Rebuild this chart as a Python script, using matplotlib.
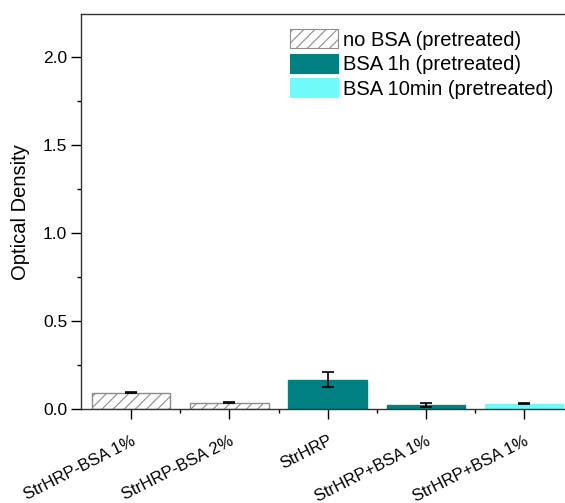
import matplotlib
matplotlib.use("Agg")
import matplotlib.pyplot as plt
from matplotlib.ticker import MultipleLocator, FixedLocator, FormatStrFormatter
from matplotlib.patches import Patch

plt.rcParams['font.family'] = ['Liberation Sans', 'DejaVu Sans']
plt.rcParams['hatch.color'] = '#a0a0a0'
plt.rcParams['hatch.linewidth'] = 0.8

categories = ["StrHRP-BSA 1%", "StrHRP-BSA 2%", "StrHRP", "StrHRP+BSA 1%", "StrHRP+BSA 1%"]
od_values = [0.095, 0.038, 0.170, 0.027, 0.034]
od_errors = [0.003, 0.002, 0.041, 0.010, 0.005]
groups = ["no BSA (pretreated)", "no BSA (pretreated)", "BSA 1h (pretreated)",
          "BSA 1h (pretreated)", "BSA 10min (pretreated)"]
group_order = ["no BSA (pretreated)", "BSA 1h (pretreated)", "BSA 10min (pretreated)"]

styles = {
    "no BSA (pretreated)": dict(facecolor="white", edgecolor="#8c8c8c", hatch="///"),
    "BSA 1h (pretreated)": dict(facecolor="#008080", edgecolor="#008080", hatch=None),
    "BSA 10min (pretreated)": dict(facecolor="#70FAFA", edgecolor="#70FAFA", hatch=None),
}

fig = plt.figure(figsize=(5.65, 5.03), dpi=100)
ax = fig.add_axes([0.1434, 0.1859, 0.873, 0.7863])

x = list(range(1, len(categories) + 1))
for xi, v, e, g in zip(x, od_values, od_errors, groups):
    st = styles[g]
    ax.bar(xi, v, width=0.8, facecolor=st["facecolor"], edgecolor=st["edgecolor"],
           hatch=st["hatch"], linewidth=1.0, zorder=2)
    ax.errorbar(xi, v, yerr=e, fmt="none", ecolor="black", elinewidth=1.2,
                capsize=4, capthick=1.2, zorder=3)

ax.set_xlim(0.49, 5.51)
ax.set_ylim(0, 2.247)
ax.set_ylabel("Optical Density", fontsize=14.5, labelpad=9)

ax.set_xticks(x)
ax.set_xticklabels(categories, rotation=27, ha="right", rotation_mode="anchor", fontsize=12)
ax.xaxis.set_minor_locator(FixedLocator([1.5, 2.5, 3.5, 4.5]))
ax.yaxis.set_major_locator(MultipleLocator(0.5))
ax.yaxis.set_minor_locator(MultipleLocator(0.25))
ax.yaxis.set_major_formatter(FormatStrFormatter("%.1f"))
ax.tick_params(axis="y", which="major", direction="out", length=7, width=1, labelsize=12.5, pad=3)
ax.tick_params(axis="y", which="minor", direction="out", length=3, width=1)
ax.tick_params(axis="x", which="major", direction="out", length=7, width=1, pad=10)
ax.tick_params(axis="x", which="minor", direction="out", length=3, width=1)

for s in ["left", "bottom", "top"]:
    ax.spines[s].set_color("#333333")
    ax.spines[s].set_linewidth(1.0)
ax.spines["right"].set_visible(False)

handles = [Patch(**styles[g], linewidth=0.8) for g in group_order]
ax.legend(handles, group_order, loc="upper left",
          bbox_to_anchor=(290 / 565, 1 - 29 / 503), bbox_transform=fig.transFigure,
          frameon=False, fontsize=14.5, handlelength=2.4,
          handleheight=1.1, handletextpad=0.25, labelspacing=0.2,
          borderpad=0, borderaxespad=0)

fig.savefig("out.png", dpi=100)
